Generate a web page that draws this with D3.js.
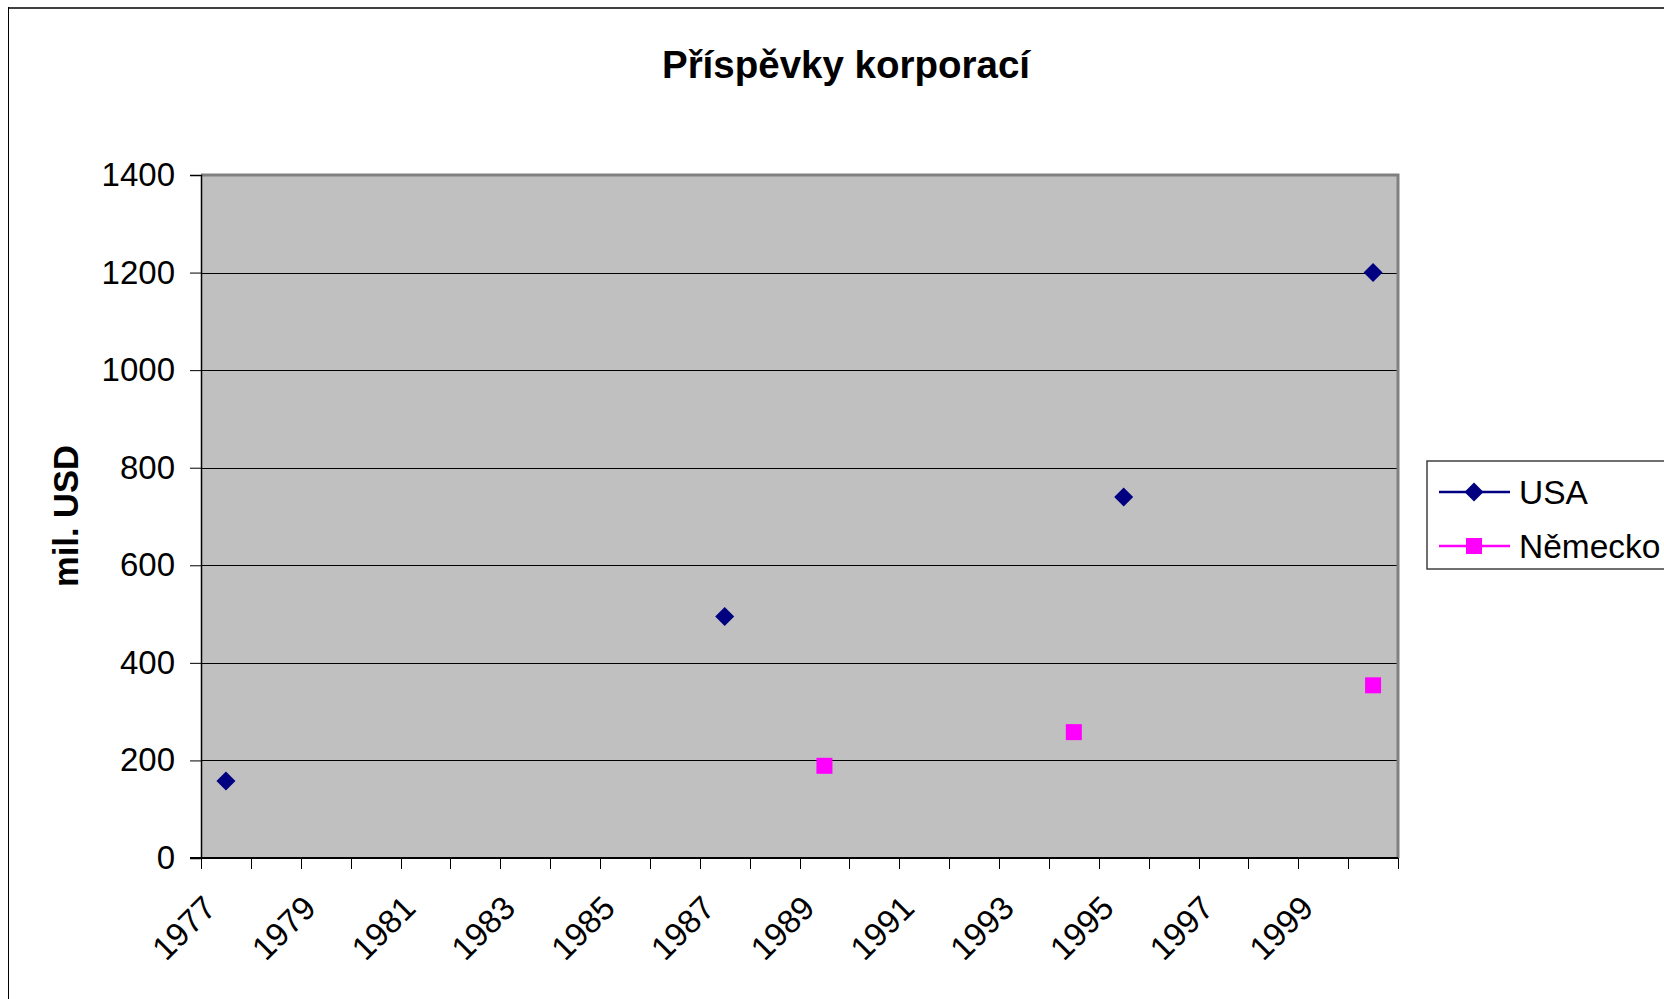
<!DOCTYPE html>
<html>
<head>
<meta charset="utf-8">
<script src="https://cdn.jsdelivr.net/npm/d3@7"></script>
<style>
  html, body { margin: 0; padding: 0; background: #fff; }
  svg { display: block; font-family: Arial, "Liberation Sans", sans-serif; }
</style>
</head>
<body>
<svg id="chart" width="1664" height="999"></svg>
<script>
const years = ["1977","1978","1979","1980","1981","1982","1983","1984","1985","1986","1987","1988",
               "1989","1990","1991","1992","1993","1994","1995","1996","1997","1998","1999","2000"];
const usaValues = [158,null,null,null,null,null,null,null,null,null,495,null,
                   null,null,null,null,null,null,740,null,null,null,null,1200];
const nemeckoValues = [null,null,null,null,null,null,null,null,null,null,null,null,
                       189,null,null,null,null,258,null,null,null,null,null,354];
const yTicks = [0,200,400,600,800,1000,1200,1400];
const xLabelYears = ["1977","1979","1981","1983","1985","1987","1989","1991","1993","1995","1997","1999"];
const seriesNames = ["USA","Německo"];
const seriesColors = ["#000080","#FF00FF"];
const titleText = "Příspěvky korporací";
const yTitleText = "mil. USD";

const svg = d3.select("#chart");

// chart area border
svg.append("line").attr("x1",8).attr("y1",8).attr("x2",1664).attr("y2",8)
  .attr("stroke","#404040").attr("stroke-width",2);
svg.append("line").attr("x1",8.5).attr("y1",7).attr("x2",8.5).attr("y2",999)
  .attr("stroke","#000").attr("stroke-width",1);

const plot = {left:201, right:1398, top:175, bottom:858};

const x = d3.scaleBand().domain(years).range([plot.left, plot.right]).padding(0);
const y = d3.scaleLinear().domain([0,1400]).range([plot.bottom, plot.top]);

// plot background
svg.append("rect").attr("x",plot.left).attr("y",plot.top)
  .attr("width",plot.right-plot.left).attr("height",plot.bottom-plot.top)
  .attr("fill","#C0C0C0");

// gridlines
svg.append("g").selectAll("line").data(yTicks.filter(d=>d>0 && d<1400)).join("line")
  .attr("x1",plot.left).attr("x2",plot.right)
  .attr("y1",d=>Math.round(y(d))+0.5).attr("y2",d=>Math.round(y(d))+0.5)
  .attr("stroke","#000").attr("stroke-width",1);

// plot border (top/right gray)
svg.append("path")
  .attr("d",`M${plot.left},${plot.top} H${plot.right} V${plot.bottom}`)
  .attr("fill","none").attr("stroke","#808080").attr("stroke-width",3);

// y axis
const yAxis = d3.axisLeft(y).tickValues(yTicks).tickFormat(d3.format("d")).tickSize(11).tickPadding(15);
const gy = svg.append("g").attr("transform",`translate(${plot.left},0)`).call(yAxis);
gy.select(".domain").attr("stroke","#000").attr("stroke-width",1.5);
gy.selectAll(".tick line").attr("stroke","#000");
gy.selectAll(".tick text").attr("font-size",33).attr("fill","#000")
  .attr("font-family","Arial, 'Liberation Sans', sans-serif");

// x axis: ticks at category boundaries
const boundaries = years.map(d=>x(d)).concat([plot.right]);
svg.append("g").selectAll("line").data(boundaries).join("line")
  .attr("x1",d=>Math.round(d)+0.5).attr("x2",d=>Math.round(d)+0.5)
  .attr("y1",plot.bottom).attr("y2",plot.bottom+11)
  .attr("stroke","#000").attr("stroke-width",1);
svg.append("line").attr("x1",plot.left-11).attr("x2",plot.right)
  .attr("y1",plot.bottom).attr("y2",plot.bottom)
  .attr("stroke","#000").attr("stroke-width",2);

svg.append("g").selectAll("text").data(xLabelYears).join("text")
  .attr("transform",d=>`translate(${x(d)+x.bandwidth()/2-8},${910}) rotate(-45)`)
  .attr("text-anchor","end")
  .attr("font-size",33).attr("fill","#000")
  .text(d=>d);

// title
svg.append("text").attr("x",846).attr("y",78).attr("text-anchor","middle")
  .attr("font-size",38.5).attr("font-weight","bold").attr("fill","#000")
  .text(titleText);

// y title
svg.append("text").attr("transform",`translate(78,516) rotate(-90)`)
  .attr("text-anchor","middle").attr("font-size",34.5).attr("font-weight","bold")
  .attr("fill","#000").text(yTitleText);

// series
const series = [
  {name:seriesNames[0], values:usaValues, color:seriesColors[0], symbol:d3.symbolDiamond2},
  {name:seriesNames[1], values:nemeckoValues, color:seriesColors[1], symbol:d3.symbolSquare}
];
const line = d3.line().defined(d=>d.v!==null)
  .x(d=>x(d.year)+x.bandwidth()/2).y(d=>y(d.v));
const symFor = s => s.symbol===d3.symbolSquare ? d3.symbol(s.symbol,256) : d3.symbol(s.symbol,230);

series.forEach(s=>{
  const pts = years.map((yr,i)=>({year:yr, v:s.values[i]}));
  svg.append("path").datum(pts).attr("d",line)
    .attr("fill","none").attr("stroke",s.color).attr("stroke-width",2);
  svg.append("g").selectAll("path").data(pts.filter(d=>d.v!==null)).join("path")
    .attr("transform",d=>`translate(${x(d.year)+x.bandwidth()/2},${y(d.v)})`)
    .attr("d",symFor(s)).attr("fill",s.color);
});

// legend
const lg = svg.append("g");
lg.append("rect").attr("x",1427).attr("y",461).attr("width",260).attr("height",108)
  .attr("fill","#fff").attr("stroke","#404040").attr("stroke-width",1.5);
series.forEach((s,i)=>{
  const cy = 492 + i*54;
  lg.append("line").attr("x1",1439).attr("x2",1510).attr("y1",cy).attr("y2",cy)
    .attr("stroke",s.color).attr("stroke-width",2.5);
  lg.append("path").attr("transform",`translate(1474,${cy})`).attr("d",symFor(s)).attr("fill",s.color);
  lg.append("text").attr("x",1519).attr("y",cy+12).attr("font-size",33.5).attr("fill","#000")
    .text(s.name);
});
</script>
</body>
</html>
